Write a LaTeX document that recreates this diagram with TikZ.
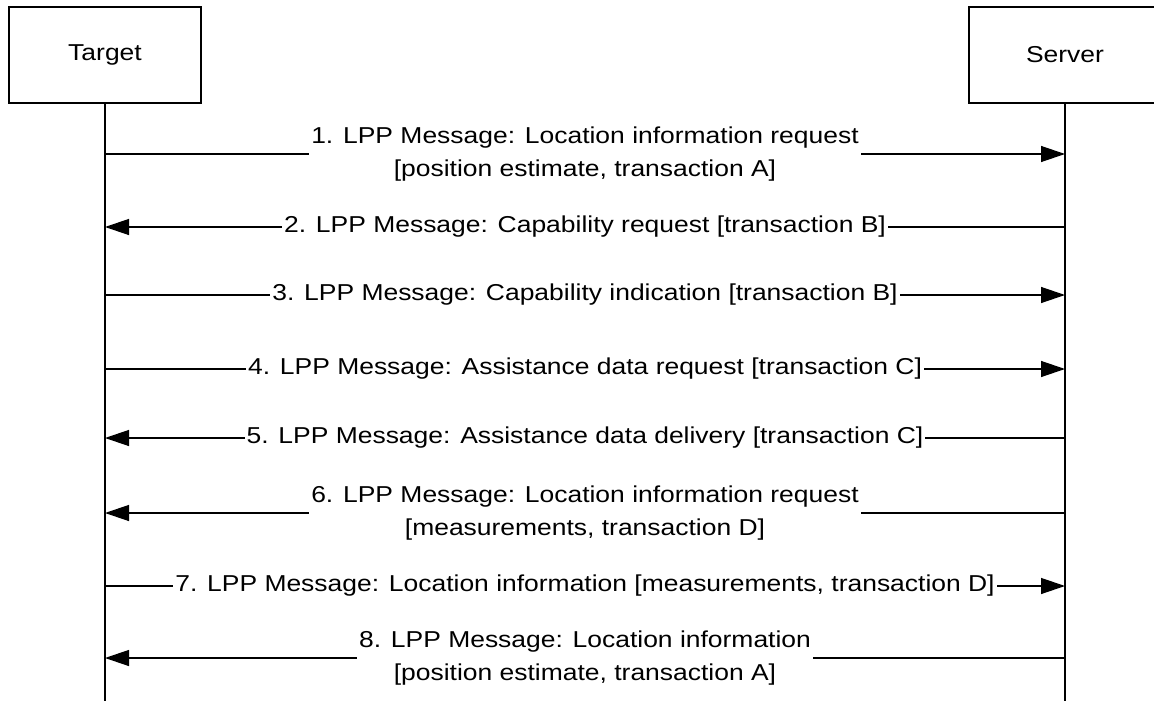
\documentclass[tikz,border=0pt]{standalone}
\usepackage{fontspec}
\setmainfont{Liberation Sans}
\newfontfamily\lppfont[FakeStretch=1.15]{Liberation Sans}
\usetikzlibrary{arrows.meta}
\tikzset{
  ent/.style={draw, line width=1.3pt, minimum width=192pt, minimum height=96pt, inner sep=0pt, font=\lppfont\fontsize{23}{33}\selectfont},
  life/.style={line width=1.3pt},
  msg/.style={line width=1.3pt, -{Triangle[length=24pt,width=16pt]}},
  lbl/.style={fill=white, inner xsep=2pt, inner ysep=0pt, align=center, font=\lppfont\fontsize{23}{33}\selectfont}
}
\begin{document}
\begin{tikzpicture}[x=1pt,y=-1pt]
\useasboundingbox (0,0) rectangle (1154,701);
\node[ent] (target) at (105,55) {Target};
\node[ent] (server) at (1065,55) {Server};
\coordinate (tend) at (105,701);
\coordinate (send) at (1065,701);
\draw[life] (target.south) -- (tend);
\draw[life] (server.south) -- (send);
\foreach \i/\y in {1/154,2/227,3/295,4/369,5/438,6/513,7/586,8/658}{
  \coordinate (t\i) at (105,\y);
  \coordinate (s\i) at (1065,\y);
}
\draw[msg] (t1) -- (s1) node[midway, lbl] {1. LPP Message: Location information request\\\relax [position estimate, transaction A]};
\draw[msg] (s2) -- (t2) node[midway, lbl] {2. LPP Message: Capability request [transaction B]};
\draw[msg] (t3) -- (s3) node[midway, lbl] {3. LPP Message: Capability indication [transaction B]};
\draw[msg] (t4) -- (s4) node[midway, lbl] {4. LPP Message: Assistance data request [transaction C]};
\draw[msg] (s5) -- (t5) node[midway, lbl] {5. LPP Message: Assistance data delivery [transaction C]};
\draw[msg] (s6) -- (t6) node[midway, lbl] {6. LPP Message: Location information request\\\relax [measurements, transaction D]};
\draw[msg] (t7) -- (s7) node[midway, lbl] {7. LPP Message: Location information [measurements, transaction D]};
\draw[msg] (s8) -- (t8) node[midway, lbl] {8. LPP Message: Location information\\\relax [position estimate, transaction A]};
\end{tikzpicture}
\end{document}
